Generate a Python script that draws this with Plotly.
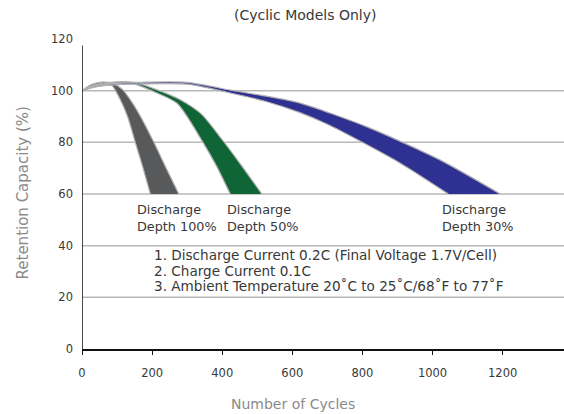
import plotly.graph_objects as go

# ---- data ----
x_ticks = [0, 200, 400, 600, 800, 1000, 1200]
y_ticks = [0, 20, 40, 60, 80, 100, 120]
grid_levels = [20, 40, 60, 80, 100]

# Discharge depth 100 % (gray band)
gray_outer_x = [0, 25, 55, 85, 115, 145, 175, 205, 238, 276]
gray_outer_y = [100, 102.3, 103.3, 103.0, 100.5, 95.0, 88.0, 80.0, 70.6, 60]
gray_inner_x = [0, 25, 55, 85, 110, 130, 152, 173, 195]
gray_inner_y = [100, 101.8, 102.6, 102.0, 96.3, 90.0, 80.0, 70.6, 60]

# Discharge depth 50 % (green band)
green_outer_x = [0, 40, 100, 150, 205, 280, 340, 400, 455, 513]
green_outer_y = [100, 102.3, 103.4, 103.2, 100.8, 96.5, 91.0, 81.0, 71.0, 60]
green_inner_x = [0, 40, 100, 150, 195, 271, 345, 385, 423]
green_inner_y = [100, 102.0, 103.0, 102.5, 100.2, 95.1, 80.0, 70.5, 60]

# Discharge depth 30 % (blue band)
blue_outer_x = [0, 40, 100, 160, 300, 432, 520, 622, 813, 1021, 1193]
blue_outer_y = [100, 101.8, 102.8, 103.2, 103.2, 100.0, 98.0, 95.2, 86.0, 73.2, 60]
blue_inner_x = [0, 40, 100, 160, 300, 414, 520, 622, 700, 793, 907, 1045]
blue_inner_y = [100, 101.5, 102.3, 102.6, 102.5, 99.4, 96.0, 91.5, 87.0, 80.5, 72.0, 60]

band_labels = [("Discharge", "Depth 100%", 152), ("Discharge", "Depth 50%", 409), ("Discharge", "Depth 30%", 1021)]
notes = [
    "1. Discharge Current 0.2C (Final Voltage 1.7V/Cell)",
    "2. Charge Current 0.1C",
    "3. Ambient Temperature 20˚C to 25˚C/68˚F to 77˚F",
]

FONT = "DejaVu Sans"
TXT = "#383838"
AX_T = "#8a8a8a"

fig = go.Figure()


def band(ox, oy, ix, iy, color):
    fig.add_trace(go.Scatter(x=ix, y=iy, mode="lines",
                             line=dict(color="#b0b0b0", width=1.2, shape="spline", smoothing=0.7),
                             hoverinfo="skip", showlegend=False))
    fig.add_trace(go.Scatter(x=ox, y=oy, mode="lines", fill="tonexty", fillcolor=color,
                             line=dict(color="#b0b0b0", width=1.2, shape="spline", smoothing=0.7),
                             hoverinfo="skip", showlegend=False))


band(gray_outer_x, gray_outer_y, gray_inner_x, gray_inner_y, "#58595b")
band(green_outer_x, green_outer_y, green_inner_x, green_inner_y, "#0f6535")
band(blue_outer_x, blue_outer_y, blue_inner_x, blue_inner_y, "#2e3192")

# plot area in pixels
L, T, B = 81.5, 38.7, 64.5
PW, PH = 564 - L, 414 - T - B


def px(xp):
    return (xp - L) / PW


def py(yp):
    return (414 - B - yp) / PH


shapes = []
for g in grid_levels:
    shapes.append(dict(type="line", xref="paper", yref="y", x0=0, x1=1, y0=g, y1=g,
                       line=dict(color="#b8b8b8", width=1.5), layer="below"))
shapes.append(dict(type="line", xref="x", yref="y", x0=0, x1=0, y0=0, y1=117.5,
                   line=dict(color="#111111", width=1.5)))

annotations = []
for l1, l2, xv in band_labels:
    annotations.append(dict(x=xv, y=53.9, xref="x", yref="y", text=l1, showarrow=False,
                            xanchor="left", yanchor="middle", font=dict(family=FONT, size=12.8, color=TXT)))
    annotations.append(dict(x=xv, y=47.4, xref="x", yref="y", text=l2, showarrow=False,
                            xanchor="left", yanchor="middle", font=dict(family=FONT, size=12.8, color=TXT)))
for t, yv in zip(notes, [36.5, 30.2, 24.3]):
    annotations.append(dict(x=200, y=yv, xref="x", yref="y", text=t, showarrow=False,
                            xanchor="left", yanchor="middle", font=dict(family=FONT, size=13.6, color=TXT)))

annotations.append(dict(x=px(305), y=py(14.5), xref="paper", yref="paper", text="(Cyclic Models Only)",
                        showarrow=False, xanchor="center", yanchor="middle",
                        font=dict(family=FONT, size=14, color=TXT)))
annotations.append(dict(x=px(293), y=py(405), xref="paper", yref="paper",
                        text="Number of Cycles", showarrow=False, xanchor="center", yanchor="middle",
                        font=dict(family=FONT, size=14, color=AX_T)))
annotations.append(dict(x=px(22), y=py(193), xref="paper", yref="paper",
                        text="Retention Capacity (%)", showarrow=False, textangle=-90,
                        xanchor="center", yanchor="middle",
                        font=dict(family=FONT, size=15, color=AX_T)))

fig.update_layout(
    width=564, height=414,
    margin=dict(l=L, r=0, t=T, b=B, pad=0),
    paper_bgcolor="white", plot_bgcolor="white",
    showlegend=False,
    shapes=shapes, annotations=annotations,
    font=dict(family=FONT, size=12, color=TXT),
)
fig.update_xaxes(range=[0, 1375], tickvals=x_ticks, ticktext=[str(v) for v in x_ticks],
                 showgrid=False, zeroline=False, showline=True, linecolor="#111111", linewidth=1.5,
                 ticks="outside", ticklen=4, tickwidth=1.2, tickcolor="#111111",
                 ticklabelstandoff=8, tickfont=dict(family=FONT, size=11.5, color=TXT))
fig.update_yaxes(range=[0, 120], tickvals=y_ticks, ticktext=[str(v) for v in y_ticks],
                 showgrid=False, zeroline=False, showline=False, ticks="",
                 ticklabelstandoff=8, tickfont=dict(family=FONT, size=11.5, color=TXT))

fig.write_html("out.html", config={"displayModeBar": False},
               post_script="document.body.style.margin='0px';document.body.style.overflow='hidden';")
